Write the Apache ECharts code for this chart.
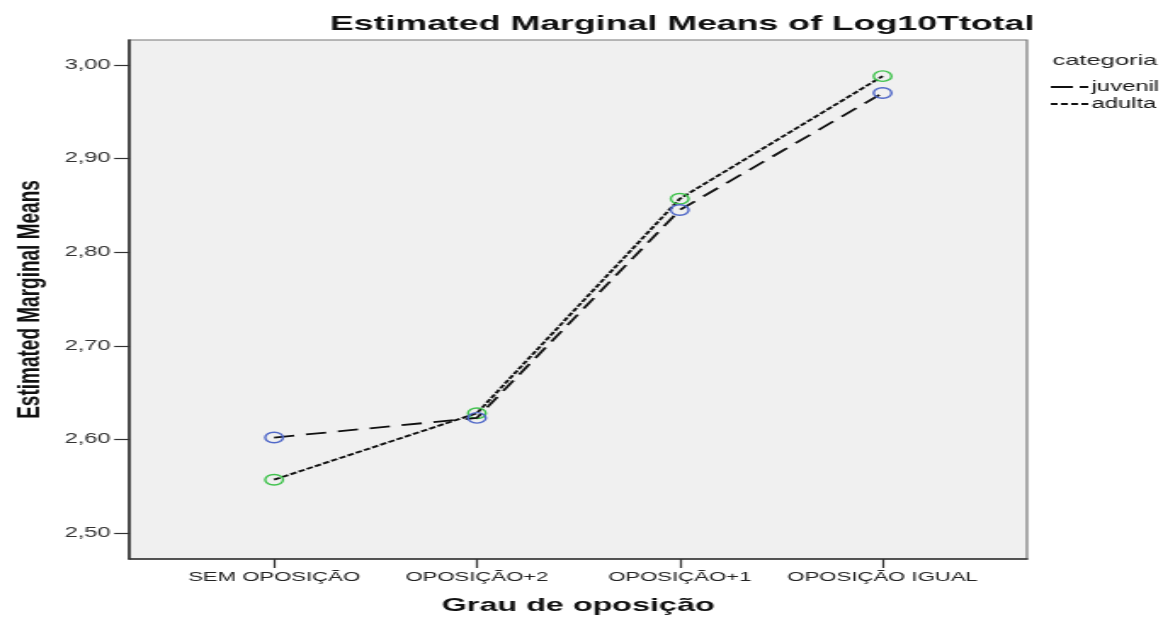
<!DOCTYPE html>
<html>
<head>
<meta charset="utf-8">
<script src="https://cdn.jsdelivr.net/npm/echarts@6/dist/echarts.min.js"></script>
<style>
  html, body { margin: 0; padding: 0; background: #fff; overflow: hidden; }
  #wrap { width: 1163px; height: 620px; overflow: hidden; }
  /* the chart is laid out narrow and widened horizontally */
  #chart { width: 684px; height: 620px; transform: scaleX(1.70029); transform-origin: 0 0; }
</style>
</head>
<body>
<div id="wrap"><div id="chart"></div></div>
<script>
const categories = ['SEM OPOSIÇÃO', 'OPOSIÇÃO+2', 'OPOSIÇÃO+1', 'OPOSIÇÃO IGUAL'];
const juvenil = [2.602, 2.623, 2.845, 2.970];
const adulta = [2.557, 2.628, 2.857, 2.988];
const yTicks = [2.5, 2.6, 2.7, 2.8, 2.9, 3.0];
const xTicks = [0, 1, 2, 3];

const font = 'Liberation Sans, Arial, sans-serif';

const chart = echarts.init(document.getElementById('chart'));

chart.setOption({
  animation: false,
  backgroundColor: '#ffffff',
  title: [
    {
      text: 'Estimated Marginal Means of Log10Ttotal',
      left: 189, top: 9,
      textStyle: { fontFamily: font, fontSize: 21, fontWeight: 'bold', color: '#111' }
    },
    {
      text: 'categoria',
      left: 614, top: 48,
      textStyle: { fontFamily: font, fontSize: 15, fontWeight: 'normal', color: '#222' }
    }
  ],
  legend: {
    orient: 'vertical',
    left: 613, top: 75,
    itemWidth: 22, itemHeight: 2, itemGap: 3,
    textStyle: { fontFamily: font, fontSize: 14, color: '#111', padding: [0, 0, 0, -3] },
    itemStyle: { color: '#111', borderWidth: 0 },
    data: [
      { name: 'juvenil', icon: 'path://M0,0H13V2H0Z M17,0H22V2H17Z' },
      { name: 'adulta', icon: 'path://M0,0H4V2H0Z M6,0H10V2H6Z M12,0H16V2H12Z M18,0H22V2H18Z' }
    ]
  },
  grid: {
    left: 74.7, right: 80, top: 40, bottom: 59,
    show: true, backgroundColor: '#f0f0f0', borderColor: '#777', borderWidth: 1.2
  },
  xAxis: {
    type: 'value',
    min: -0.713, max: 3.712,
    name: 'Grau de oposição',
    nameLocation: 'middle', nameGap: 37,
    nameTextStyle: { fontFamily: font, fontSize: 19, fontWeight: 'bold', color: '#111' },
    axisLine: { show: true, onZero: false, lineStyle: { color: '#333', width: 1.6 } },
    axisTick: { show: true, length: 9, customValues: xTicks, lineStyle: { color: '#333', width: 1.2 } },
    axisLabel: {
      customValues: xTicks, margin: 12,
      fontFamily: font, fontSize: 13, color: '#222',
      formatter: v => categories[Math.round(v)]
    },
    splitLine: { show: false }
  },
  yAxis: {
    type: 'value',
    min: 2.4723, max: 3.0266,
    name: 'Estimated Marginal Means',
    nameLocation: 'middle', nameGap: 49,
    nameTextStyle: { fontFamily: font, fontSize: 19, fontWeight: 'bold', color: '#111' },
    axisLine: { show: true, onZero: false, lineStyle: { color: '#333', width: 1.6 } },
    axisTick: { show: true, length: 9, customValues: yTicks, lineStyle: { color: '#333', width: 1.2 } },
    axisLabel: {
      customValues: yTicks, margin: 11,
      fontFamily: font, fontSize: 14, color: '#333',
      formatter: v => v.toFixed(2).replace('.', ',')
    },
    splitLine: { show: false }
  },
  series: [
    {
      name: 'juvenil',
      type: 'line',
      data: juvenil.map((v, i) => [i, v]),
      symbol: 'circle', symbolSize: 10.5,
      itemStyle: { color: 'transparent', borderColor: '#5068c8', borderWidth: 1.4 },
      lineStyle: { color: '#111', width: 1.8, type: [12, 7] },
      z: 3
    },
    {
      name: 'adulta',
      type: 'line',
      data: adulta.map((v, i) => [i, v]),
      symbol: 'circle', symbolSize: 10.5,
      itemStyle: { color: 'transparent', borderColor: '#3fc24c', borderWidth: 1.4 },
      lineStyle: { color: '#111', width: 1.9, type: [4, 1.5] },
      z: 2
    }
  ]
});
</script>
</body>
</html>
